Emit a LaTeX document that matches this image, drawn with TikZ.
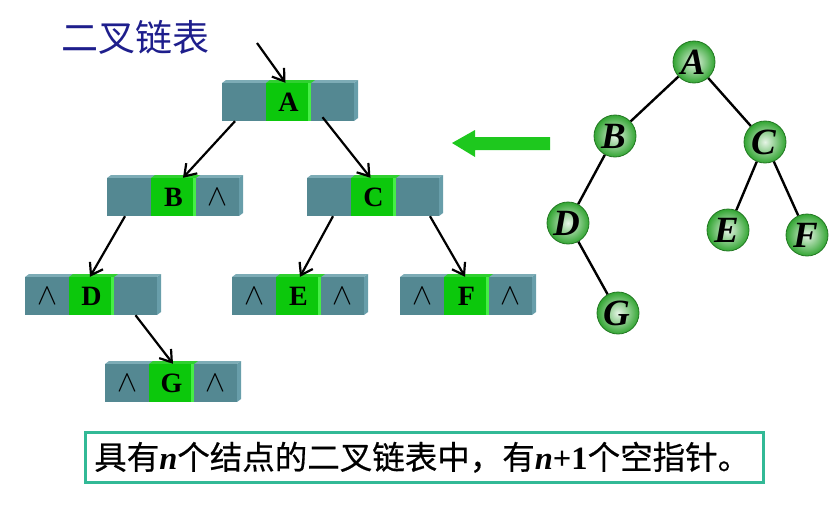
\documentclass[tikz,border=0pt]{standalone}
\usepackage{graphicx}
\usepackage{fontspec}
\setmainfont{Liberation Serif}
\newfontfamily\cjk{Noto Sans CJK SC}
\newfontfamily\cjknote[FakeBold=0.5]{Noto Sans CJK SC}
\usetikzlibrary{arrows.meta}

\definecolor{tealfront}{RGB}{84,136,146}
\definecolor{tealtop}{RGB}{125,172,182}
\definecolor{tealside}{RGB}{104,158,170}
\definecolor{cellgreen}{RGB}{12,200,12}
\definecolor{cellgreenlight}{RGB}{70,238,70}
\definecolor{titleblue}{RGB}{30,30,140}
\definecolor{notebox}{RGB}{50,185,150}
\definecolor{ballgreen}{RGB}{50,165,50}
\definecolor{ballrim}{RGB}{35,120,35}
\definecolor{arrowgreen}{RGB}{30,200,30}

% null pointer symbol
\newcommand\nullsym{\resizebox{20pt}{!}{$\wedge$}}
\newcommand\latn[1]{{\rmfamily\bfseries #1}}

\begin{document}
\begin{tikzpicture}[x=1pt,y=-1pt,
  cell/.style={minimum width=44pt,minimum height=38pt,inner sep=0pt,
    font=\fontsize{28}{28}\selectfont\bfseries},
  ptr/.style={line width=2.2pt,-{Straight Barb[length=11pt,width=15pt,line width=2.2pt]}},
  ball/.style={circle,minimum size=42pt,inner sep=0pt,draw=ballrim,line width=0.8pt,
    inner color=ballgreen!12,outer color=ballgreen,
    font=\fontsize{37}{37}\selectfont\bfseries\itshape},
  treeedge/.style={line width=2.4pt},
  pics/lnode/.style n args={3}{code={
    \fill[tealtop] (0,0) -- (4,-3) -- (136,-3) -- (132,0) -- cycle;
    \fill[tealside] (132,0) -- (136,-3) -- (136,35) -- (132,38) -- cycle;
    \fill[tealfront] (0,0) rectangle (132,38);
    \fill[cellgreen!85!white] (44,0) -- (48,-3) -- (93,-3) -- (89,0) -- cycle;
    \fill[cellgreen] (44,0) rectangle (89,38);
    \fill[cellgreenlight] (86,0) rectangle (89,38);
    \node[cell] (-l) at (22,19) {#2};
    \node[cell] (-m) at (66.5,19) {#1};
    \node[cell] (-r) at (110.5,19) {#3};
  }}
]
\useasboundingbox (0,0) rectangle (840,506);

% title
\node[anchor=west,inner sep=0pt,text=titleblue,font=\cjk\fontsize{37}{37}\selectfont]
  (title) at (61,37) {二叉链表};

% binary linked list
\pic (A) at (222,83) {lnode={A}{}{}};
\pic (B) at (107,178) {lnode={B}{}{\nullsym}};
\pic (C) at (307,178) {lnode={C}{}{}};
\pic (D) at (25,277) {lnode={D}{\nullsym}{}};
\pic (E) at (232,277) {lnode={E}{\nullsym}{\nullsym}};
\pic (F) at (400,277) {lnode={F}{\nullsym}{\nullsym}};
\pic (G) at (105,364) {lnode={G}{\nullsym}{\nullsym}};

\coordinate (root) at (257,43);
\draw[ptr] (root) -- ([xshift=-3pt]A-m.north);
\draw[ptr] ([xshift=-9pt]A-l.south) -- ([xshift=9.5pt]B-m.north);
\draw[ptr] ([xshift=-10pt,yshift=4pt]A-r.south) -- ([xshift=-3pt]C-m.north);
\draw[ptr] ([xshift=-4pt]B-l.south) -- ([xshift=-1.5pt]D-m.north);
\draw[ptr] ([xshift=4pt]C-l.south) -- ([xshift=1.5pt]E-m.north);
\draw[ptr] ([xshift=12.5pt]C-r.south) -- ([xshift=-1.5pt]F-m.north);
\draw[ptr] (D-r.south) -- ([xshift=1.5pt]G-m.north);

% big green arrow
\fill[arrowgreen] (452,143) -- (475,130) -- (475,137) -- (550,137) -- (550,150)
  -- (475,150) -- (475,157) -- cycle;

% binary tree
\node[ball] (tA) at (694,62) {A\kern2pt};
\node[ball] (tB) at (615,136) {B\kern3pt};
\node[ball] (tC) at (765,142) {C\kern3pt};
\node[ball] (tD) at (568,223) {D\kern3pt};
\node[ball] (tE) at (728,230) {E\kern3pt};
\node[ball] (tF) at (807,235) {F\kern3pt};
\node[ball] (tG) at (618,313) {G\kern3pt};
\draw[treeedge] (tA) -- (tB);
\draw[treeedge] (tA) -- (tC);
\draw[treeedge] (tB) -- (tD);
\draw[treeedge] (tC) -- (tE);
\draw[treeedge] (tC) -- (tF);
\draw[treeedge] (tD) -- (tG);

% note
\node[draw=notebox,line width=2.5pt,anchor=north west,minimum width=678pt,
  minimum height=50pt,text width=660pt,inner xsep=9pt,align=left,
  font=\cjknote\fontsize{32.5}{32.5}\selectfont] (note) at (84,431)
  {具有\latn{\itshape n}个结点的二叉链表中，有\latn{\itshape n}\latn{+1}个空指针。};
\end{tikzpicture}
\end{document}
